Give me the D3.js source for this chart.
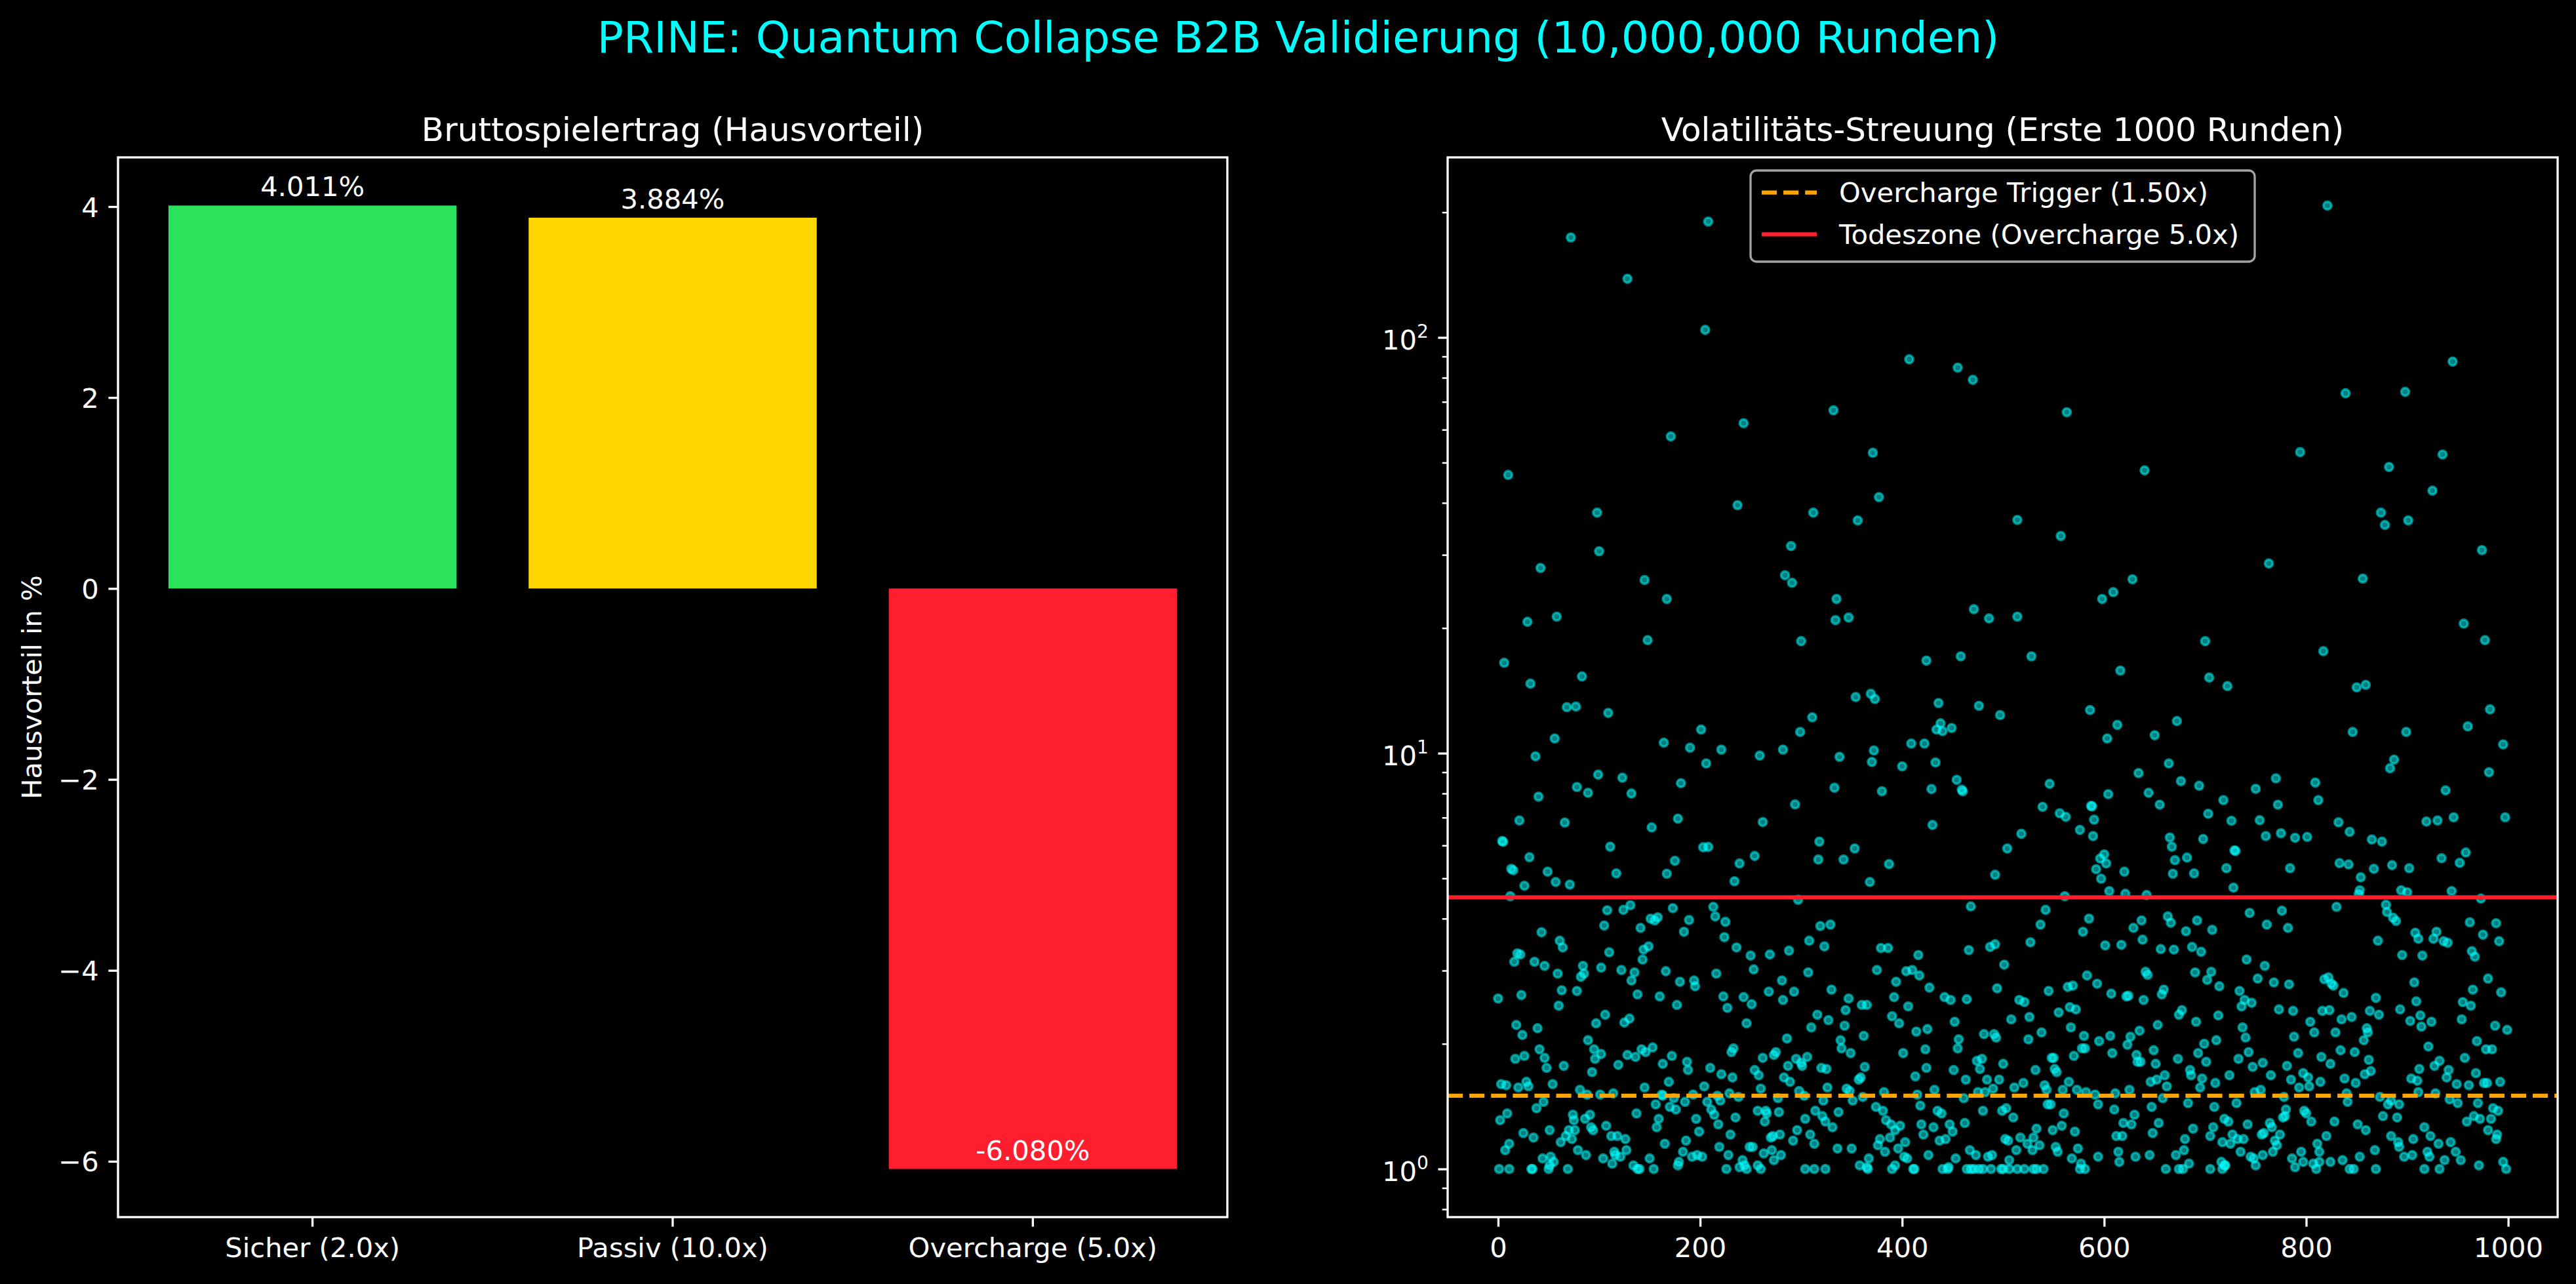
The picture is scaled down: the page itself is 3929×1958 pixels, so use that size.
<!DOCTYPE html>
<html>
<head>
<meta charset="utf-8">
<script src="https://cdn.jsdelivr.net/npm/d3@7"></script>
<style>
  html, body { margin: 0; padding: 0; background: #000; }
  svg { display: block; }
  text { font-family: "DejaVu Sans", sans-serif; fill: #fff; }
</style>
</head>
<body>
<div id="chart"></div>
<script>
// ---- data ----
var barLabels = ["Sicher (2.0x)", "Passiv (10.0x)", "Overcharge (5.0x)"];
var houseEdge = [4.011, 3.884, -6.080];
var barColors = ["#2be35a", "#ffd700", "#ff1e2d"];
var edgeTicks = [-6, -4, -2, 0, 2, 4];
var roundTicks = [0, 200, 400, 600, 800, 1000];
var triggerLevel = 1.5;
var deathLevel = 4.5;
var legendLabels = ["Overcharge Trigger (1.50x)", "Todeszone (Overcharge 5.0x)"];

// [round, multiplier]
var volPoints = [
  [72,174],[208,190],[128,138.4],[205,104.3],[407,88.6],[455,84.6],[470,79.1],[332,66.8],[243,62.2],[171,57.8],[371,52.8],[10,46.7],[377,41.3],[237,39.5],[98,37.9],[312,37.9],[356,36.3],[290,31.5],[100,30.6],[42,27.9],[145,26.1],[284,26.8],[291,25.7],[167,23.5],[335,23.5],[471,22.2],[486,21.1],[29,20.7],[58,21.3],[334,20.9],[347,21.2],[148,18.7],[300,18.6],[6,16.5],[424,16.7],[458,17.1],[83,15.3],
  [821,207.6],[945,87.5],[839,73.4],[898,74.0],[563,66.1],[794,53.0],[935,52.3],[882,48.8],[640,47.9],[925,42.8],[874,37.9],[878,35.4],[901,36.3],[514,36.4],[557,33.3],[974,30.8],[763,28.6],[628,26.2],[856,26.3],[609,24.4],[598,23.5],[514,21.3],[956,20.5],[977,18.7],[700,18.6],[817,17.6],[528,17.1],[616,15.8],[704,15.2],
  [32,14.7],[68,12.9],[77,12.95],[109,12.5],[354,13.65],[369,13.9],[373,13.5],[436,13.2],[476,13.0],[497,12.35],[311,12.2],[56,10.85],[201,11.4],[299,11.25],[434,11.4],[438,11.8],[440,11.3],[449,11.5],[164,10.6],[190,10.31],[221,10.2],[282,10.2],[37,9.83],[259,9.87],[338,9.8],[372,10.15],[409,10.55],[422,10.55],[206,9.45],[370,9.53],[400,9.3],[433,9.5],[99,8.88],[123,8.73],[181,8.47],[78,8.29],[89,8.03],[132,8.0],[333,8.26],[380,8.1],[429,8.2],[454,8.63],[459,8.17],[460,8.1],[40,7.86],[294,7.53],[21,6.89],[66,6.81],[178,6.96],[262,6.83],[152,6.63],[430,6.72],[4,6.15],[5,6.12],[111,5.96],[203,5.94],[208,5.95],[318,6.13],[353,5.9],[504,5.9],[31,5.62],[175,5.51],[254,5.66],[317,5.55],[342,5.55],[387,5.41],[239,5.43],[13,5.27],[15,5.23],[49,5.19],[117,5.14],[167,5.13],[57,4.9],[71,4.83],[26,4.8],[234,4.92],[368,4.9],[492,5.1],[12,4.53],[297,4.44],
  [108,4.19],[124,4.2],[131,4.31],[173,4.24],[213,4.27],[468,4.28],[215,4.05],[151,4.0],[158,4.03],[155,3.96],[189,3.97],[225,3.93],[105,3.85],[141,3.8],[184,3.72],[319,3.84],[329,3.87],[43,3.71],[61,3.54],[64,3.41],[224,3.61],[308,3.54],[323,3.43],[236,3.41],[379,3.4],[386,3.4],[466,3.36],[487,3.42],[492,3.47],[19,3.3],[22,3.28],[16,3.15],[110,3.32],[144,3.37],[143,3.19],[149,3.43],[250,3.26],[269,3.28],[288,3.35],[416,3.27],[36,3.15],[46,3.08],[59,2.95],[84,3.08],[85,2.95],[82,2.9],[102,3.05],[122,3.01],[135,2.97],[166,2.99],[216,2.95],[253,3.02],[307,2.97],[375,3.01],[404,2.99],[410,3.01],[417,2.92],[501,3.1],[132,2.84],[180,2.82],[194,2.84],[195,2.75],[281,2.84],[394,2.82],[23,2.62],[63,2.69],[78,2.68],[0,2.57],[138,2.63],[160,2.6],[223,2.6],[243,2.59],[268,2.67],[293,2.67],[282,2.55],[330,2.7],[427,2.73],[494,2.72],[60,2.47],[177,2.48],[227,2.44],[251,2.49],[347,2.57],[360,2.48],[365,2.48],[392,2.59],[442,2.59],[448,2.55],[464,2.56],[406,2.46],[106,2.35],[97,2.24],[125,2.25],[130,2.3],[18,2.22],[39,2.18],[24,2.1],[246,2.24],[316,2.35],[327,2.28],[310,2.19],[343,2.21],[344,2.41],[390,2.33],[397,2.24],[452,2.26],[508,2.29],[414,2.14],[425,2.17],[362,2.09],[481,2.11],[491,2.11],[493,2.07],[89,2.04],[95,1.94],[102,1.89],[96,1.84],[41,1.94],[46,1.85],[26,1.87],[17,1.84],[48,1.75],[65,1.77],[128,1.88],[136,1.86],[142,1.94],[146,1.91],[153,1.96],[119,1.78],[93,1.71],[172,1.87],[163,1.79],[187,1.81],[188,1.73],[210,1.75],[221,1.69],[232,1.66],[231,1.91],[233,1.95],[262,1.85],[273,1.88],[275,1.91],[286,2.06],[295,1.84],[300,1.8],[301,1.77],[306,1.86],[287,1.77],[254,1.73],[258,1.68],[339,2.04],[340,1.95],[349,1.9],[320,1.75],[325,1.74],[363,1.76],[401,1.9],[423,1.94],[455,1.95],[456,2.05],[424,1.75],[451,1.73],[477,1.74],[474,1.82],[479,1.84],[500,1.79],[413,1.67],[463,1.64],[484,1.64],[496,1.64],[3,1.6],[8,1.59],[20,1.57],[28,1.62],[30,1.58],[54,1.6],[81,1.55],[88,1.51],[101,1.51],[114,1.52],[145,1.57],[169,1.62],[204,1.58],[283,1.66],[289,1.62],[357,1.64],[359,1.66],[326,1.57],[260,1.56],[229,1.52],[298,1.54],[345,1.56],[348,1.54],[382,1.53],[415,1.51],[432,1.55],[475,1.53],[482,1.53],[490,1.56],
  [162,1.51],[163,1.5],[174,1.48],[193,1.51],[217,1.5],[220,1.46],[238,1.49],[277,1.48],[303,1.5],[322,1.46],[351,1.46],[361,1.49],[461,1.48],[45,1.45],[38,1.4],[156,1.43],[170,1.41],[176,1.39],[185,1.45],[207,1.45],[211,1.39],[214,1.35],[218,1.28],[137,1.36],[74,1.35],[75,1.31],[91,1.35],[9,1.36],[2,1.31],[86,1.32],[92,1.26],[94,1.24],[70,1.24],[76,1.24],[51,1.24],[25,1.22],[35,1.19],[107,1.27],[159,1.32],[157,1.26],[196,1.32],[199,1.23],[235,1.33],[257,1.38],[265,1.38],[266,1.36],[278,1.37],[264,1.3],[304,1.32],[314,1.38],[321,1.34],[324,1.3],[331,1.26],[337,1.37],[374,1.41],[381,1.38],[384,1.31],[389,1.28],[398,1.27],[393,1.24],[418,1.42],[435,1.38],[439,1.36],[419,1.28],[431,1.26],[447,1.28],[450,1.23],[462,1.29],[480,1.38],[499,1.38],[503,1.4],[11,1.15],[7,1.11],[62,1.16],[67,1.2],[73,1.18],[112,1.2],[118,1.2],[126,1.18],[165,1.15],[186,1.17],[219,1.13],[230,1.21],[249,1.13],[252,1.13],[270,1.19],[272,1.2],[279,1.21],[292,1.17],[296,1.24],[309,1.21],[313,1.15],[336,1.12],[350,1.12],[376,1.14],[378,1.18],[388,1.19],[403,1.16],[421,1.21],[437,1.17],[443,1.18],[502,1.18],[505,1.17],[44,1.06],[52,1.07],[55,1.04],[79,1.11],[87,1.08],[104,1.06],[113,1.03],[115,1.1],[116,1.08],[121,1.07],[127,1.11],[150,1.06],[183,1.1],[179,1.04],[178,1.02],[192,1.07],[197,1.08],[202,1.07],[228,1.08],[242,1.05],[263,1.09],[271,1.11],[273,1.05],[280,1.08],[367,1.06],[383,1.1],[396,1.12],[402,1.07],[405,1.06],[426,1.08],[453,1.06],[467,1.11],[473,1.08],[485,1.07],[489,1.08],[506,1.05],
  [1,1],[11,1],[33,1],[34,1],[50,1],[51,1.02],[69,1],[134,1.02],[138,1],[140,1],[154,1],[226,1],[239,1.01],[244,1.02],[246,1],[257,1.02],[260,1],[304,1],[313,1],[324,1],[358,1.02],[365,1.01],[366,1],[390,1],[393,1.02],[411,1],[412,1],[440,1],[445,1],[446,1.01],[464,1],[468,1],[471,1],[476,1],[480,1],[488,1],[498,1],[500,1],[506,1],
  [722,14.5],[850,14.4],[859,14.6],[586,12.7],[613,11.7],[603,10.85],[650,11.05],[672,11.95],[846,11.25],[899,11.25],[960,11.6],[982,12.75],[995,10.5],[546,8.44],[539,7.43],[556,7.17],[562,7.03],[587,7.47],[588,7.45],[590,6.92],[576,6.54],[589,6.32],[604,7.97],[634,8.96],[644,8.03],[655,7.52],[664,9.45],[676,8.57],[694,8.35],[703,7.15],[718,7.71],[726,6.88],[750,8.21],[754,6.9],[770,8.7],[772,7.52],[760,6.32],[775,6.42],[789,6.26],[801,6.29],[809,8.5],[812,7.71],[887,9.65],[883,9.2],[938,8.14],[981,9.0],[997,7.01],[919,6.85],[930,6.89],[946,7.01],[832,6.82],[843,6.47],[865,6.2],[875,6.13],[518,6.4],[665,6.27],[667,5.96],[670,5.53],[682,5.61],[668,5.13],[689,5.14],[698,6.22],[729,5.84],[730,5.82],[721,5.29],[728,4.75],[784,5.29],[600,5.71],[596,5.58],[602,5.43],[592,5.26],[597,4.99],[620,5.19],[605,4.66],[621,4.59],[642,4.56],[561,4.53],[833,5.44],[842,5.4],[854,5.03],[867,5.27],[885,5.38],[902,5.29],[934,5.59],[958,5.77],[952,5.45],[853,4.68],[852,4.58],[894,4.68],[900,4.63],[944,4.66],[973,4.47],
  [542,4.2],[537,3.87],[527,3.51],[585,4.0],[579,3.72],[601,3.45],[617,3.46],[629,3.8],[637,3.96],[638,3.56],[663,4.05],[666,3.91],[656,3.38],[669,3.37],[681,3.73],[687,3.42],[696,3.33],[692,3.96],[707,3.76],[744,4.13],[761,3.87],[776,4.18],[782,3.8],[830,4.27],[879,4.32],[880,4.15],[886,4.02],[889,3.95],[871,3.54],[908,3.7],[911,3.58],[926,3.58],[929,3.72],[936,3.53],[940,3.5],[962,3.92],[975,3.66],[988,3.9],[991,3.53],[895,3.27],[915,3.26],[964,3.34],[967,3.24],[741,3.19],[759,3.08],[583,2.92],[593,2.79],[545,2.68],[564,2.74],[569,2.76],[607,2.64],[622,2.6],[624,2.61],[641,2.98],[643,2.93],[639,2.55],[657,2.63],[659,2.7],[690,2.97],[706,2.98],[702,2.85],[714,2.75],[734,2.68],[739,2.55],[746,2.51],[736,2.46],[752,2.87],[768,2.81],[783,2.78],[818,2.86],[822,2.89],[825,2.79],[827,2.76],[837,2.65],[869,2.58],[907,2.81],[909,2.53],[913,2.34],[914,2.2],[924,2.26],[893,2.42],[903,2.27],[965,2.7],[980,2.87],[993,2.66],[955,2.52],[963,2.47],[954,2.29],[863,2.4],[872,2.35],[835,2.29],[845,2.32],[816,2.4],[823,2.41],[804,2.26],[808,2.13],[787,2.4],[773,2.42],[516,2.55],[521,2.52],[526,2.32],[555,2.38],[566,2.45],[572,2.42],[567,2.19],[538,2.13],[525,2.05],[580,2.09],[595,2.03],[606,2.09],[626,2.08],[623,1.99],[635,2.15],[608,1.9],[578,1.95],[581,1.95],[570,1.87],[548,1.85],[550,1.85],[551,1.74],[553,1.71],[532,1.73],[520,1.61],[511,1.57],[541,1.59],[543,1.55],[559,1.55],[565,1.62],[573,1.55],[582,1.53],[591,1.51],[611,1.52],[625,1.55],[653,2.22],[674,2.35],[677,2.41],[691,2.26],[713,2.34],[737,2.19],[740,2.07],[711,2.04],[699,2.0],[693,1.9],[701,1.81],[673,1.84],[649,1.93],[632,1.88],[633,1.81],[636,1.81],[651,1.79],[646,1.62],[652,1.64],[660,1.68],[662,1.58],[685,1.73],[686,1.68],[697,1.65],[695,1.57],[710,1.61],[724,1.68],[733,1.84],[743,1.91],[747,1.76],[757,1.8],[765,1.68],[781,1.77],[788,2.08],[792,1.9],[797,1.7],[802,1.66],[803,1.58],[785,1.64],[793,1.57],[815,1.86],[824,1.79],[814,1.62],[834,1.93],[848,1.91],[862,1.83],[864,1.72],[857,2.04],[861,2.13],[860,2.18],[829,2.13],[838,1.65],[849,1.61],[858,1.69],[921,1.97],[932,1.82],[927,1.77],[941,1.73],[939,1.66],[912,1.74],[904,1.65],[910,1.63],[911,1.53],[957,1.85],[969,2.03],[978,1.94],[984,1.94],[987,2.21],[999,2.16],[968,1.7],[949,1.6],[961,1.59],[976,1.61],[979,1.61],[992,1.62],[749,1.53],[755,1.55],[778,1.49],[840,1.52],[928,1.52],[658,1.48],[873,1.49],[942,1.47],
  [544,1.43],[547,1.43],[594,1.43],[610,1.39],[647,1.41],[683,1.44],[709,1.41],[731,1.44],[780,1.39],[798,1.38],[800,1.36],[805,1.3],[777,1.33],[779,1.34],[719,1.32],[723,1.3],[841,1.45],[881,1.43],[892,1.43],[884,1.46],[950,1.44],[970,1.44],[985,1.4],[990,1.38],[876,1.34],[890,1.33],[828,1.3],[851,1.28],[859,1.24],[966,1.34],[959,1.3],[972,1.32],[983,1.32],[560,1.36],[558,1.27],[549,1.24],[533,1.25],[510,1.33],[630,1.35],[619,1.29],[627,1.28],[654,1.29],[571,1.23],[612,1.2],[618,1.2],[648,1.22],[688,1.25],[708,1.26],[742,1.28],[764,1.29],[766,1.26],[774,1.21],[758,1.22],[756,1.21],[705,1.2],[717,1.16],[725,1.15],[727,1.21],[732,1.18],[738,1.18],[680,1.18],[679,1.11],[671,1.08],[769,1.17],[771,1.14],[767,1.1],[820,1.2],[811,1.15],[813,1.1],[795,1.1],[786,1.06],[917,1.26],[923,1.2],[884,1.2],[891,1.16],[892,1.13],[906,1.18],[931,1.15],[943,1.16],[980,1.24],[989,1.21],[988,1.18],[920,1.1],[922,1.07],[948,1.1],[953,1.05],[937,1.05],[905,1.08],[897,1.07],[868,1.11],[853,1.07],[836,1.05],[824,1.04],[745,1.07],[748,1.06],[757,1.08],[735,1.1],[716,1.04],[720,1.02],[684,1.03],[517,1.19],[530,1.19],[524,1.15],[536,1.14],[529,1.11],[513,1.11],[552,1.13],[554,1.1],[574,1.12],[568,1.06],[594,1.07],[614,1.1],[615,1.04],[631,1.07],[645,1.08],[577,1.03],[995,1.04],
  [514,1],[521,1],[530,1],[533,1],[540,1],[576,1],[581,1],[661,1],[674,1],[678,1],[705,1],[717,1],[719,1.02],[750,1.02],[789,1.01],[797,1.04],[807,1.03],[810,1],[813,1.04],[843,1],[847,1],[869,1],[917,1],[932,1],[971,1.02],[998,1]
];

var W = 3929, H = 1958;
var FS = 41.7;          // 10pt text
var TICK = 14.6, PAD = 14.6, LW = 3.33;

var svg = d3.select("#chart").append("svg")
    .attr("width", W)
    .attr("height", H);

svg.append("rect").attr("width", W).attr("height", H).attr("fill", "#000");

svg.append("text")
    .attr("x", 1980).attr("y", 80)
    .attr("text-anchor", "middle")
    .style("font-size", "66.7px")
    .style("fill", "#00ffff")
    .text("PRINE: Quantum Collapse B2B Validierung (10,000,000 Runden)");

var styleAxis = function (g, size, width) {
    g.select(".domain").remove();
    g.selectAll(".tick line").attr("stroke", "#fff").attr("stroke-width", width);
    g.selectAll(".tick text").style("font-size", size + "px").style("fill", "#fff")
        .style("font-family", "'DejaVu Sans', sans-serif");
};

// ================= left: bars =================
var L = {left: 180, right: 1872, top: 240, bottom: 1856};

var x1 = d3.scaleBand()
    .domain(barLabels)
    .range([L.left, L.right])
    .paddingInner(0.2)
    .paddingOuter(0.14);

var ext1 = d3.extent(houseEdge.concat([0]));
var m1 = (ext1[1] - ext1[0]) * 0.05;
var y1 = d3.scaleLinear()
    .domain([ext1[0] - m1, ext1[1] + m1])
    .range([L.bottom, L.top]);

var gL = svg.append("g");

gL.selectAll("rect.bar")
    .data(houseEdge)
    .enter()
    .append("rect")
    .attr("class", "bar")
    .attr("x", function (d, i) { return x1(barLabels[i]); })
    .attr("width", x1.bandwidth())
    .attr("y", function (d) { return y1(Math.max(0, d)); })
    .attr("height", function (d) { return Math.abs(y1(d) - y1(0)); })
    .attr("fill", function (d, i) { return barColors[i]; });

gL.selectAll("text.val")
    .data(houseEdge)
    .enter()
    .append("text")
    .attr("class", "val")
    .attr("x", function (d, i) { return x1(barLabels[i]) + x1.bandwidth() / 2; })
    .attr("y", function (d) { return y1(d) - 14; })
    .attr("text-anchor", "middle")
    .style("font-size", FS + "px")
    .text(function (d) { return d.toFixed(3) + "%"; });

var axL = gL.append("g")
    .attr("transform", "translate(" + L.left + ",0)")
    .call(d3.axisLeft(y1).tickValues(edgeTicks).tickSize(TICK).tickPadding(PAD));
styleAxis(axL, FS, LW);
axL.selectAll(".tick text").attr("dy", "0.36em");

var axB = gL.append("g")
    .attr("transform", "translate(0," + L.bottom + ")")
    .call(d3.axisBottom(x1).tickSize(TICK).tickPadding(PAD));
styleAxis(axB, FS, LW);
axB.selectAll(".tick text").attr("dy", "0.76em");

gL.append("rect")
    .attr("x", L.left).attr("y", L.top)
    .attr("width", L.right - L.left).attr("height", L.bottom - L.top)
    .attr("fill", "none").attr("stroke", "#fff").attr("stroke-width", LW);

gL.append("text")
    .attr("transform", "translate(63," + (L.top + L.bottom) / 2 + ") rotate(-90)")
    .attr("text-anchor", "middle")
    .style("font-size", FS + "px")
    .text("Hausvorteil in %");

gL.append("text")
    .attr("x", (L.left + L.right) / 2).attr("y", 215)
    .attr("text-anchor", "middle")
    .style("font-size", "50px")
    .text("Bruttospielertrag (Hausvorteil)");

// ================= right: scatter =================
var R = {left: 2208, right: 3901, top: 240, bottom: 1856};

var xExt = d3.extent(volPoints, function (d) { return d[0]; });
var xm = (xExt[1] - xExt[0]) * 0.05;
var x2 = d3.scaleLinear()
    .domain([xExt[0] - xm, xExt[1] + xm])
    .range([R.left, R.right]);

var yExt = d3.extent(volPoints, function (d) { return Math.log10(d[1]); });
var ym = (yExt[1] - yExt[0]) * 0.05;
var y2 = d3.scaleLog()
    .domain([Math.pow(10, yExt[0] - ym), Math.pow(10, yExt[1] + ym)])
    .range([R.bottom, R.top]);

var gR = svg.append("g");

gR.append("clipPath").attr("id", "clipR")
    .append("rect")
    .attr("x", R.left).attr("y", R.top)
    .attr("width", R.right - R.left).attr("height", R.bottom - R.top);

gR.append("g")
    .attr("clip-path", "url(#clipR)")
    .selectAll("circle")
    .data(volPoints)
    .enter()
    .append("circle")
    .attr("cx", function (d) { return x2(d[0]); })
    .attr("cy", function (d) { return y2(d[1]); })
    .attr("r", 6)
    .attr("fill", "#00ffff")
    .attr("fill-opacity", 0.5)
    .attr("stroke", "#00ffff")
    .attr("stroke-opacity", 0.5)
    .attr("stroke-width", 3.8);

gR.append("line")
    .attr("x1", R.left).attr("x2", R.right)
    .attr("y1", y2(triggerLevel)).attr("y2", y2(triggerLevel))
    .attr("stroke", "#ffa500").attr("stroke-width", 6.25)
    .attr("stroke-dasharray", "23.1,10");

gR.append("line")
    .attr("x1", R.left).attr("x2", R.right)
    .attr("y1", y2(deathLevel)).attr("y2", y2(deathLevel))
    .attr("stroke", "#ff1e2d").attr("stroke-width", 6.25);

var axRB = gR.append("g")
    .attr("transform", "translate(0," + R.bottom + ")")
    .call(d3.axisBottom(x2).tickValues(roundTicks).tickSize(TICK).tickPadding(PAD).tickFormat(d3.format("d")));
styleAxis(axRB, FS, LW);
axRB.selectAll(".tick text").attr("dy", "0.76em");

var allLogTicks = y2.ticks();
var majorTicks = allLogTicks.filter(function (v) {
    var e = Math.log10(v);
    return Math.abs(e - Math.round(e)) < 1e-9;
});
var minorTicks = allLogTicks.filter(function (v) { return majorTicks.indexOf(v) < 0; });

var axRMinor = gR.append("g")
    .attr("transform", "translate(" + R.left + ",0)")
    .call(d3.axisLeft(y2).tickValues(minorTicks).tickSize(8.3).tickFormat(""));
styleAxis(axRMinor, FS, 2.5);

var axRMajor = gR.append("g")
    .attr("transform", "translate(" + R.left + ",0)")
    .call(d3.axisLeft(y2).tickValues(majorTicks).tickSize(TICK).tickFormat(""));
styleAxis(axRMajor, FS, LW);

var supLabels = gR.selectAll("text.logtick")
    .data(majorTicks)
    .enter()
    .append("text")
    .attr("class", "logtick")
    .attr("x", R.left - TICK - PAD)
    .attr("y", function (d) { return y2(d) + 18; })
    .attr("text-anchor", "end")
    .style("font-size", FS + "px");
supLabels.append("tspan").text("10");
supLabels.append("tspan")
    .attr("dy", -18)
    .style("font-size", "28px")
    .text(function (d) { return Math.round(Math.log10(d)); });

gR.append("rect")
    .attr("x", R.left).attr("y", R.top)
    .attr("width", R.right - R.left).attr("height", R.bottom - R.top)
    .attr("fill", "none").attr("stroke", "#fff").attr("stroke-width", LW);

gR.append("text")
    .attr("x", (R.left + R.right) / 2).attr("y", 215)
    .attr("text-anchor", "middle")
    .style("font-size", "50px")
    .text("Volatilitäts-Streuung (Erste 1000 Runden)");

// legend
var lg = gR.append("g");
lg.append("rect")
    .attr("x", 2670).attr("y", 260)
    .attr("width", 769).attr("height", 139)
    .attr("rx", 9).attr("ry", 9)
    .attr("fill", "#000").attr("fill-opacity", 0.8)
    .attr("stroke", "#a3a3a3").attr("stroke-width", 3.3);

var legendRows = [
    {label: legendLabels[0], color: "#ffa500", dash: "23.1,10", y: 293.6},
    {label: legendLabels[1], color: "#ff1e2d", dash: null, y: 357.3}
];
legendRows.forEach(function (row) {
    lg.append("line")
        .attr("x1", 2687).attr("x2", 2771)
        .attr("y1", row.y).attr("y2", row.y)
        .attr("stroke", row.color).attr("stroke-width", 6.25)
        .attr("stroke-dasharray", row.dash);
    lg.append("text")
        .attr("x", 2805).attr("y", row.y + 14.5)
        .style("font-size", FS + "px")
        .text(row.label);
});
</script>
</body>
</html>
